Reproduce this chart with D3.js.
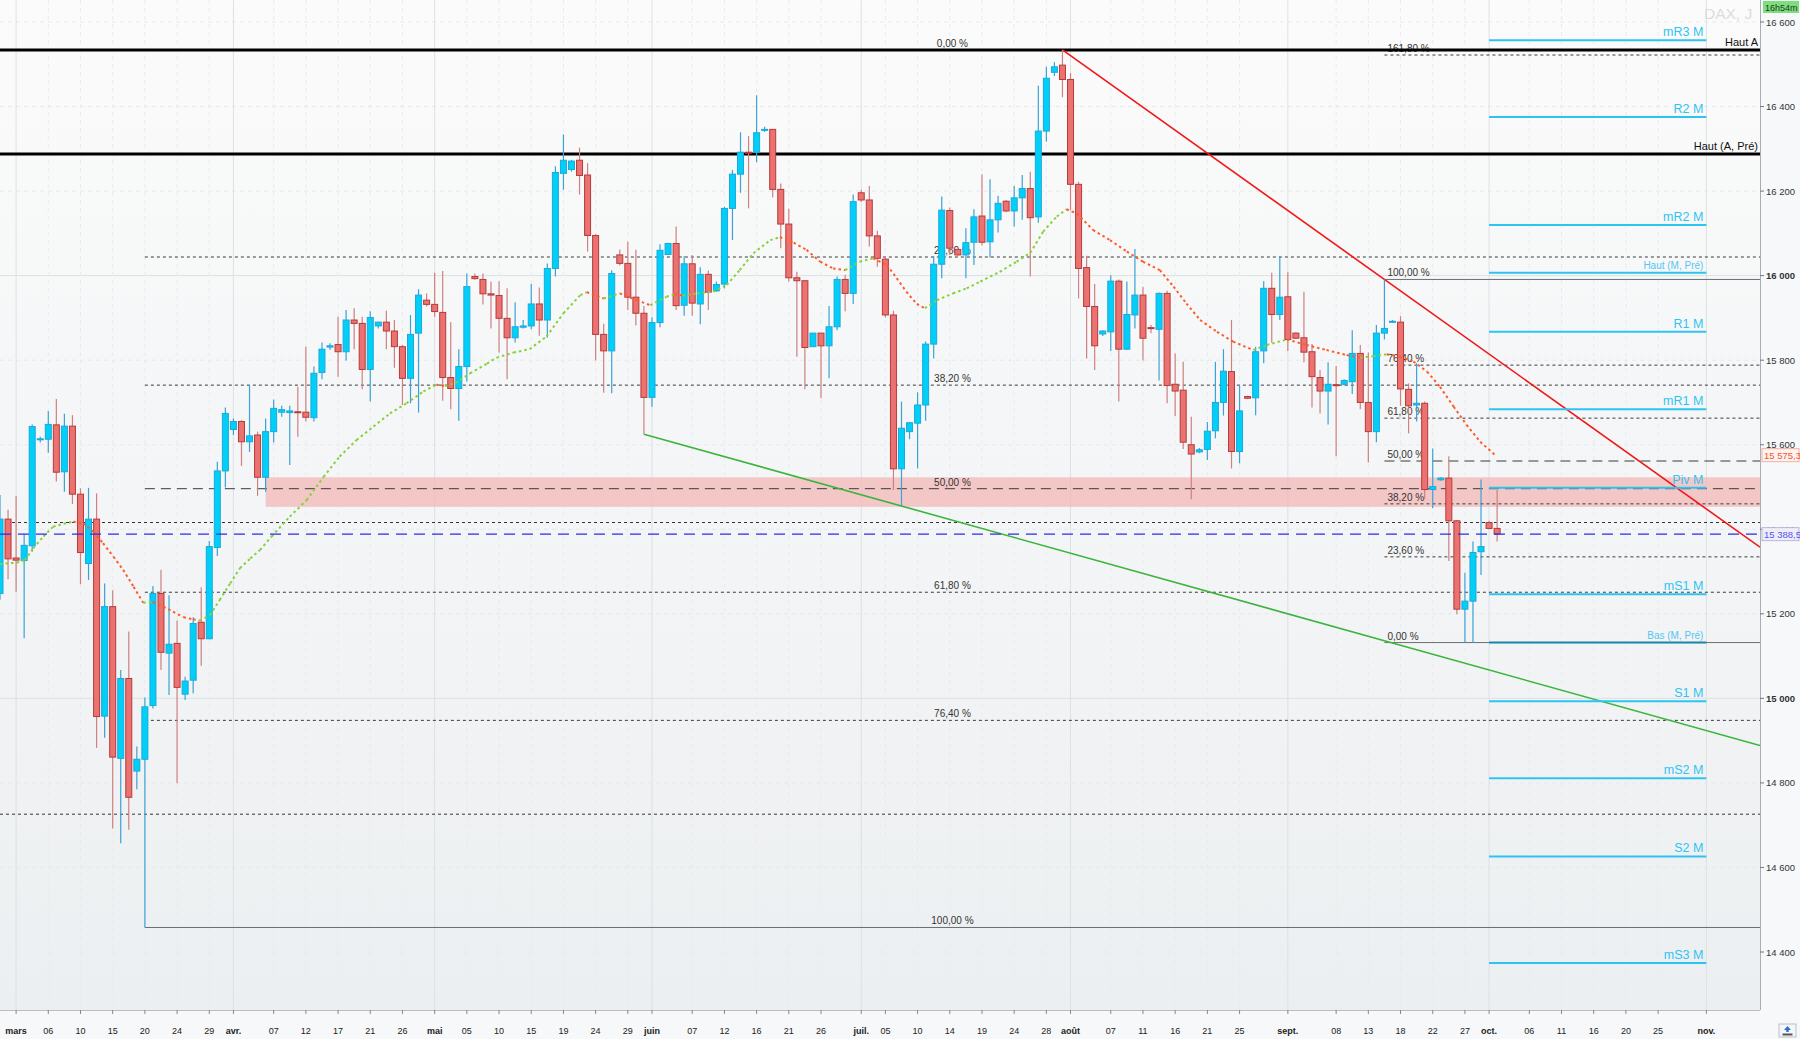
<!DOCTYPE html>
<html>
<head>
<meta charset="utf-8">
<script src="https://cdn.jsdelivr.net/npm/d3@7"></script>
<style>
  body { margin: 0; background: #ffffff; }
  svg { display: block; font-family: "Liberation Sans", Arial, sans-serif; }
</style>
</head>
<body>
<div id="chart"></div>
<script>
// ---- data (DAX, daily, CFD sessions Sun-Fri) ----
const firstSession = "2023-02-27";

const opens = [15248,15424,15332,15326,15361,15612,15613,15647,15536,15644,15483,15319,15424,14958,15217,14858,15047,14828,14856,14983,
  15248,15107,15130,15010,15043,15180,15141,15357,15538,15636,15655,15607,15623,15523,15631,15677,15676,15678,15677,15664,
  15771,15831,15837,15820,15895,15887,15778,15881,15890,15869,15832,15757,15864,15942,15932,15913,15759,15733,15785,15998,
  15991,15957,15953,15899,15853,15878,15881,15933,15895,16017,16242,16251,16273,16238,16095,15861,15822,16049,16029,15949,
  15911,15712,15889,16050,16076,15930,16028,15933,16003,15964,15980,16159,16240,16292,16292,16344,16346,16204,16122,15995,
  15988,15832,15864,15834,15879,15991,15958,16196,16179,16094,16039,15907,15543,15631,15651,15694,15838,16027,16154,16062,
  16049,16079,16141,16080,16132,16176,16153,16184,16206,16139,16342,16481,16498,16464,16216,16019,15927,15862,15867,15987,
  15826,15907,15954,15877,15873,15958,15743,15729,15600,15583,15589,15633,15700,15773,15584,15714,15711,15822,15970,15908,
  15950,15864,15853,15820,15759,15727,15742,15743,15749,15816,15700,15631,15864,15890,15890,15731,15694,15698,15494,15517,
  15521,15420,15211,15230,15347,15416,15402];
const highs = [15481,15446,15479,15388,15648,15619,15680,15708,15673,15670,15497,15498,15485,15272,15256,15067,15158,14886,15002,15266,
  15304,15244,15184,15051,15192,15263,15372,15560,15688,15662,15658,15741,15631,15662,15707,15692,15692,15737,15832,15785,
  15842,15840,15903,15919,15923,15903,15916,15891,15917,15895,15836,15907,15968,15958,16007,16011,15890,15826,16005,16005,
  16005,15986,15987,15970,15937,15895,15980,15972,16029,16259,16334,16274,16303,16266,16098,15886,16013,16062,16080,16061,
  15928,15901,16074,16078,16116,16046,16049,16020,16012,15986,16163,16250,16339,16330,16427,16352,16346,16218,16158,16009,
  15988,15864,15864,15928,15998,16002,16192,16203,16212,16106,16046,15917,15702,15654,15724,15844,16046,16187,16161,16063,
  16112,16157,16240,16228,16189,16179,16212,16238,16246,16449,16494,16505,16534,16479,16222,16047,15980,15871,16001,15991,
  15986,16063,15974,15883,15960,15964,15816,15796,15666,15592,15654,15796,15826,15895,15740,15716,15832,15987,16007,16045,
  16008,15866,15962,15838,15777,15795,15786,15755,15871,15836,15818,15883,15991,15895,15904,15745,15793,15702,15591,15523,
  15573,15422,15297,15371,15518,15420,15493];
const lows = [15233,15282,15252,15142,15347,15605,15581,15513,15489,15460,15270,15280,14883,14907,14692,14657,14689,14785,14458,14976,
  15067,15008,14799,14996,15012,15077,15140,15337,15499,15623,15550,15583,15479,15489,15605,15666,15552,15619,15655,15655,
  15755,15824,15761,15799,15826,15731,15702,15875,15826,15782,15694,15698,15676,15927,15903,15704,15684,15657,15749,15990,
  15932,15875,15818,15755,15842,15875,15873,15858,15853,15998,16203,16246,16192,16057,15799,15723,15722,16024,15919,15882,
  15625,15690,15878,16049,15919,15905,15905,15885,15919,15962,15970,16084,16196,16159,16268,16340,16185,16065,15986,15808,
  15731,15832,15710,15757,15871,15916,15933,16175,16069,16021,15901,15493,15455,15613,15544,15657,15804,15994,16049,16047,
  15994,16025,16071,16043,16102,16150,16116,16132,15998,16125,16317,16472,16422,16155,15946,15804,15777,15857,15822,15702,
  15824,15875,15799,15864,15752,15698,15668,15590,15471,15580,15564,15615,15669,15544,15556,15708,15670,15793,15841,15895,
  15822,15850,15795,15688,15674,15648,15573,15740,15720,15684,15558,15606,15849,15888,15692,15627,15655,15471,15450,15515,
  15325,15199,15132,15132,15292,15400,15371];
const closes = [15424,15330,15327,15362,15643,15614,15648,15535,15644,15483,15345,15424,14957,15217,14861,15047,14766,14856,14980,15248,
  15109,15128,15026,15041,15177,15141,15359,15538,15674,15655,15607,15621,15523,15631,15686,15683,15680,15676,15665,15769,
  15826,15834,15820,15895,15887,15778,15901,15890,15869,15832,15757,15861,15954,15932,15915,15759,15733,15785,15974,15993,
  15957,15954,15899,15853,15879,15881,15933,15895,16017,16244,16273,16271,16237,16095,15861,15822,16005,16029,15949,15911,
  15712,15889,16060,16076,15929,16028,15935,16003,15961,15979,16159,16240,16292,16290,16338,16346,16204,16122,15995,15988,
  15830,15864,15834,15879,15991,15958,16175,16179,16094,16041,15907,15543,15639,15652,15694,15838,16027,16155,16065,16049,
  16078,16139,16079,16132,16171,16153,16184,16206,16137,16342,16467,16494,16464,16216,16017,15927,15834,15869,15987,15826,
  15908,15954,15852,15875,15958,15740,15727,15606,15578,15588,15632,15700,15774,15584,15680,15710,15820,15970,15908,15949,
  15849,15852,15819,15761,15727,15743,15740,15752,15816,15700,15631,15864,15875,15892,15732,15692,15698,15494,15501,15521,
  15420,15211,15230,15345,15359,15402,15388.5];

// moving average: [session slot, value]
const maSlots = [0,2.07,3.1,4.14,5.4,6.6,7.9,9.1,10.35,11.6,12.8,14.1,15.3,16.6,17.8,19.0,20.3,21.5,22.8,24.0,24.8,26.1,27.3,28.6,29.8,31.1,32.3,
  33.75,36.0,38.1,40.2,42.2,44.3,46.4,48.45,50.5,52.6,54.2,55.3,56.6,58.4,60.5,61.7,63.8,65.8,67.9,70.0,72.1,72.9,75.0,77.0,79.1,80.8,82.8,83.8,84.8,
  86.6,88.6,90.3,91.9,93.6,95.7,96.9,98.6,100.2,101.9,103.5,105.0,106.8,108.5,110.2,111.4,112.6,113.9,114.9,116.4,118.4,120.1,121.8,124.2,126.3,
  128.0,129.6,131.3,132.5,133.8,135.8,137.9,140.0,142.0,144.1,145.8,147.4,149.1,151.2,153.2,155.7,157.4,159.9,162.3,164.8,167.3,169.0,170.6,172.3,
  173.9,175.6,177.3,178.9,180.6,182.2,183.9,185.9];
const maValues = [15318,15321,15327,15355,15383,15406,15413,15418,15414,15394,15367,15335,15304,15264,15226,15228,15217,15205,15192,15187,15184,15197,15233,15272,15308,15331,15351,
  15383,15430,15469,15524,15572,15611,15643,15674,15698,15726,15742,15739,15746,15769,15792,15806,15818,15826,15856,15911,15954,15961,15946,15958,15942,15930,15950,15956,15953,
  15958,15962,15978,16013,16053,16084,16091,16078,16061,16033,16017,16013,16033,16041,16025,15994,15962,15933,15923,15942,15958,15970,15986,16009,16033,
  16054,16104,16140,16157,16147,16108,16084,16057,16033,16013,15974,15934,15895,15867,15844,15824,15836,15849,15836,15824,15812,15806,15809,15814,
  15808,15797,15773,15737,15690,15647,15607,15573];

// x-axis ticks
const tickDates = ["2023-03-01","2023-03-06","2023-03-10","2023-03-15","2023-03-20","2023-03-24","2023-03-29",
  "2023-04-02","2023-04-07","2023-04-12","2023-04-17","2023-04-21","2023-04-26",
  "2023-05-01","2023-05-05","2023-05-10","2023-05-15","2023-05-19","2023-05-24","2023-05-29",
  "2023-06-01","2023-06-07","2023-06-12","2023-06-16","2023-06-21","2023-06-26",
  "2023-07-02","2023-07-05","2023-07-10","2023-07-14","2023-07-19","2023-07-24","2023-07-28",
  "2023-08-01","2023-08-07","2023-08-11","2023-08-16","2023-08-21","2023-08-25",
  "2023-09-01","2023-09-08","2023-09-13","2023-09-18","2023-09-22","2023-09-27",
  "2023-10-01","2023-10-06","2023-10-11","2023-10-16","2023-10-20","2023-10-25","2023-11-01"];
const tickLabels = ["mars","06","10","15","20","24","29","avr.","07","12","17","21","26",
  "mai","05","10","15","19","24","29","juin","07","12","16","21","26",
  "juil.","05","10","14","19","24","28","août","07","11","16","21","25",
  "sept.","08","13","18","22","27","oct.","06","11","16","20","25","nov."];
const monthLabels = ["mars","avr.","mai","juin","juil.","août","sept.","oct.","nov."];
const yTicks = [14400,14600,14800,15000,15200,15400,15600,15800,16000,16200,16400,16600];

// horizontal levels
const levelNames = ["Haut A", "Haut (A, Pré)"];
const levelValues = [16534, 16288];
const dottedLevels = [15416, 14726];
const lastPrice = 15388.5;
const maLast = 15575.3;

// fibonacci retracements
const fibPcts = [0, 23.6, 38.2, 50, 61.8, 76.4, 100];
const fibA = {from: "2023-03-20", low: 14458, high: 16534, pcts: fibPcts, labelMid: true};
const fibB = {from: "2023-09-15", low: 15132, high: 15991, pcts: fibPcts.concat([161.8]), labelMid: false};

// trend lines: two anchor points [session date, price]
const redTrend = [["2023-07-31", 16534], ["2023-09-15", 15991]];
const greenTrend = [["2023-05-31", 15625], ["2023-07-07", 15455]];

// zone
const zoneFrom = "2023-04-06";
const zoneRange = [15453, 15523];

// monthly pivots (October)
const pivotFrom = "2023-10-01", pivotTo = "2023-11-01";
const pivotNames = ["mR3 M","R2 M","mR2 M","Haut (M, Pré)","R1 M","mR1 M","Piv M","mS1 M","Bas (M, Pré)","S1 M","mS2 M","S2 M","mS3 M"];
const pivotValues = [16557,16375,16120,16007,15867,15684,15498,15246,15132,14993,14811,14626,14374];

// ---- layout ----
const W = 1800, H = 1039;
const plotW = 1760, plotH = 1010;

// session calendar (no Saturdays)
const sessions = [];
{
  const d = new Date(firstSession + "T12:00:00Z");
  while (sessions.length < 240) {
    if (d.getUTCDay() !== 6) sessions.push(d.toISOString().slice(0, 10));
    d.setUTCDate(d.getUTCDate() + 1);
  }
}
const slotOf = s => sessions.indexOf(s);

const x = d3.scaleLinear().domain([0, 218.66]).range([0, plotW]);
const y = d3.scaleLinear().domain([14400, 16600]).range([952, 22]);

const candles = opens.map((o, i) => ({i, o, h: highs[i], l: lows[i], c: closes[i]}));

const svg = d3.select("#chart").append("svg")
  .attr("width", W).attr("height", H);

const defs = svg.append("defs");
const grad = defs.append("linearGradient").attr("id", "bg").attr("x1", 0).attr("y1", 0).attr("x2", 0).attr("y2", 1);
grad.append("stop").attr("offset", "0%").attr("stop-color", "#fbfbfb");
grad.append("stop").attr("offset", "100%").attr("stop-color", "#eceff1");
defs.append("clipPath").attr("id", "plotclip").append("rect")
  .attr("x", 0).attr("y", 0).attr("width", plotW).attr("height", plotH);

svg.append("rect").attr("width", W).attr("height", H).attr("fill", "#f7f8f9");
svg.append("rect").attr("width", plotW).attr("height", plotH).attr("fill", "url(#bg)");

const plot = svg.append("g").attr("clip-path", "url(#plotclip)");

// grid
plot.append("g").selectAll("line").data(yTicks).join("line")
  .attr("x1", 0).attr("x2", plotW)
  .attr("y1", d => y(d)).attr("y2", d => y(d))
  .attr("stroke", d => d % 1000 === 0 ? "#dde1e4" : "#e6e9eb")
  .attr("stroke-dasharray", d => d % 1000 === 0 ? null : "4,4");
plot.append("g").selectAll("line").data(tickDates).join("line")
  .attr("x1", d => x(slotOf(d))).attr("x2", d => x(slotOf(d)))
  .attr("y1", 0).attr("y2", plotH)
  .attr("stroke", (d, i) => monthLabels.includes(tickLabels[i]) ? "#dde1e4" : "#e8ebed")
  .attr("stroke-dasharray", (d, i) => monthLabels.includes(tickLabels[i]) ? null : "4,4");

// zone
plot.append("rect")
  .attr("x", x(slotOf(zoneFrom))).attr("width", plotW - x(slotOf(zoneFrom)))
  .attr("y", y(zoneRange[1])).attr("height", y(zoneRange[0]) - y(zoneRange[1]))
  .attr("fill", "#f4b4b4").attr("fill-opacity", 0.7);

// fibonacci levels
function fmtPct(p) { return p.toFixed(2).replace(".", ",") + " %"; }
function drawFib(f) {
  const x0 = x(slotOf(f.from));
  const g = plot.append("g");
  const lv = f.pcts.map(p => ({p, v: f.low + (f.high - f.low) * (f === fibA ? (100 - p) : p) / 100}));
  g.selectAll("line").data(lv).join("line")
    .attr("x1", x0).attr("x2", plotW)
    .attr("y1", d => y(d.v)).attr("y2", d => y(d.v))
    .attr("stroke", d => (d.p === 0 || d.p === 100) ? "#6a6e70" : "#3a3a3a")
    .attr("stroke-width", 1)
    .attr("stroke-dasharray", d => (d.p === 0 || d.p === 100) ? null : d.p === 50 ? "10,6" : "3,3");
  g.selectAll("text").data(lv).join("text")
    .attr("x", f.labelMid ? (x0 + plotW) / 2 : x0 + 3)
    .attr("y", d => y(d.v) - 3)
    .attr("text-anchor", f.labelMid ? "middle" : "start")
    .attr("font-size", 10).attr("fill", "#333")
    .text(d => fmtPct(d.p));
}
drawFib(fibA);
drawFib(fibB);

// horizontal levels
plot.append("g").selectAll("line").data(dottedLevels).join("line")
  .attr("x1", 0).attr("x2", plotW).attr("y1", d => y(d)).attr("y2", d => y(d))
  .attr("stroke", "#333").attr("stroke-dasharray", "3,3");
plot.append("g").selectAll("line").data(levelValues).join("line")
  .attr("x1", 0).attr("x2", plotW).attr("y1", d => y(d)).attr("y2", d => y(d))
  .attr("stroke", "#000").attr("stroke-width", 3);
plot.append("g").selectAll("text").data(levelNames).join("text")
  .attr("x", plotW - 2).attr("y", (d, i) => y(levelValues[i]) - 4)
  .attr("text-anchor", "end").attr("font-size", 11).attr("fill", "#111")
  .text(d => d);

// trend lines, extended to the right edge
function trend(pts, color) {
  const i0 = slotOf(pts[0][0]), i1 = slotOf(pts[1][0]);
  const slope = (pts[1][1] - pts[0][1]) / (i1 - i0);
  const iEnd = x.domain()[1];
  plot.append("line")
    .attr("x1", x(i0)).attr("y1", y(pts[0][1]))
    .attr("x2", x(iEnd)).attr("y2", y(pts[0][1] + slope * (iEnd - i0)))
    .attr("stroke", color).attr("stroke-width", 1.6);
}
trend(redTrend, "#f01818");
trend(greenTrend, "#3cb43c");

// candles
const bw = 6;
const cg = plot.append("g");
cg.selectAll("line").data(candles).join("line")
  .attr("x1", d => x(d.i)).attr("x2", d => x(d.i))
  .attr("y1", d => y(d.h)).attr("y2", d => y(d.l))
  .attr("stroke", d => d.c >= d.o ? "#3aa2d6" : "#cf8080")
  .attr("stroke-width", 1.2);
cg.selectAll("rect").data(candles).join("rect")
  .attr("x", d => x(d.i) - bw / 2)
  .attr("y", d => y(Math.max(d.o, d.c)))
  .attr("width", bw)
  .attr("height", d => Math.max(1, Math.abs(y(d.o) - y(d.c))))
  .attr("fill", d => d.c >= d.o ? "#00d0f8" : "#ea7270")
  .attr("stroke", d => d.c >= d.o ? "#1ca8dc" : "#b83a3a")
  .attr("stroke-width", 1);

// moving average (dotted, green rising / red falling)
const maG = plot.append("g");
d3.range(maSlots.length - 1).forEach(k => {
  maG.append("line")
    .attr("x1", x(maSlots[k])).attr("y1", y(maValues[k]))
    .attr("x2", x(maSlots[k + 1])).attr("y2", y(maValues[k + 1]))
    .attr("stroke", maValues[k + 1] >= maValues[k] ? "#86d13a" : "#ff5a28")
    .attr("stroke-width", 2).attr("stroke-dasharray", "2.5,3");
});

// last price dashed line
plot.append("line")
  .attr("x1", 0).attr("x2", plotW).attr("y1", y(lastPrice)).attr("y2", y(lastPrice))
  .attr("stroke", "#2c2ce6").attr("stroke-width", 1.4).attr("stroke-dasharray", "11,7");

// pivots
const px0 = x(slotOf(pivotFrom)), px1 = x(slotOf(pivotTo));
const pg = plot.append("g");
pg.selectAll("line").data(pivotValues).join("line")
  .attr("x1", px0).attr("x2", px1).attr("y1", d => y(d)).attr("y2", d => y(d))
  .attr("stroke", (d, i) => pivotNames[i].startsWith("Bas") ? "#1b86ad" : "#2ec4f2")
  .attr("stroke-width", 2);
pg.selectAll("text").data(pivotNames).join("text")
  .attr("x", px1 - 3).attr("y", (d, i) => y(pivotValues[i]) - 4)
  .attr("text-anchor", "end")
  .attr("font-size", d => d.includes("Pré") ? 10 : 12.5)
  .attr("fill", d => d.includes("Pré") ? "#56c6f0" : "#2ec4f2")
  .text(d => d);

// watermark
plot.append("text").attr("x", 1704).attr("y", 19).attr("font-size", 15.5)
  .attr("fill", "#d9dde0").text("DAX, J");

// frames
svg.append("line").attr("x1", plotW + 0.5).attr("x2", plotW + 0.5).attr("y1", 0).attr("y2", plotH)
  .attr("stroke", "#a6aeb2");
svg.append("line").attr("x1", 0).attr("x2", plotW).attr("y1", plotH + 0.5).attr("y2", plotH + 0.5)
  .attr("stroke", "#b8bfc3");

// y axis
const ya = svg.append("g").attr("transform", `translate(${plotW},0)`);
ya.selectAll("line").data(yTicks).join("line")
  .attr("x1", 0).attr("x2", 4).attr("y1", d => y(d)).attr("y2", d => y(d)).attr("stroke", "#777");
ya.selectAll("text").data(yTicks).join("text")
  .attr("x", 6).attr("y", d => y(d) + 3.5)
  .attr("font-size", 9.5).attr("fill", "#333")
  .attr("font-weight", d => d % 1000 === 0 ? "bold" : null)
  .text(d => d3.format(",")(d).replace(",", " "));

// x axis
const xa = svg.append("g");
xa.selectAll("line").data(tickDates).join("line")
  .attr("x1", d => x(slotOf(d))).attr("x2", d => x(slotOf(d)))
  .attr("y1", plotH).attr("y2", plotH + 4).attr("stroke", "#888");
xa.selectAll("text").data(tickLabels).join("text")
  .attr("x", (d, i) => x(slotOf(tickDates[i])))
  .attr("y", H - 5)
  .attr("text-anchor", "middle")
  .attr("font-size", 9)
  .attr("font-weight", d => monthLabels.includes(d) ? "bold" : null)
  .attr("fill", "#222")
  .text(d => d);

// value tags on the right
function tag(v, text, fg, bg, border) {
  const g = svg.append("g").attr("transform", `translate(${plotW + 2},${y(v)})`);
  g.append("rect").attr("x", 0).attr("y", -6.5).attr("width", 37).attr("height", 13)
    .attr("fill", bg).attr("stroke", border);
  g.append("text").attr("x", 2).attr("y", 3.5).attr("font-size", 9.5).attr("fill", fg).text(text);
}
tag(maLast, "15 575,3", "#f5532d", "#fdf3f1", "#f0b0a0");
tag(lastPrice, "15 388,5", "#5555ee", "#eeeef8", "#b8b8dc");

// timer box
svg.append("rect").attr("x", plotW + 3).attr("y", 1).attr("width", 36).attr("height", 12).attr("fill", "#7ede7e");
svg.append("text").attr("x", plotW + 5).attr("y", 10.5).attr("font-size", 9).attr("fill", "#1d3a1d").text("16h54m");

// small corner button (bottom right)
const btn = svg.append("g").attr("transform", "translate(1779,1024)");
btn.append("rect").attr("width", 17).attr("height", 13).attr("fill", "#f4f6f8").attr("stroke", "#b9c0c5");
btn.append("path").attr("d", "M8.5,2 L12,6 L9.7,6 L9.7,8 L7.3,8 L7.3,6 L5,6 Z").attr("fill", "#2a6fd0");
btn.append("rect").attr("x", 3.5).attr("y", 9.5).attr("width", 10).attr("height", 2).attr("fill", "#555");
</script>
</body>
</html>
